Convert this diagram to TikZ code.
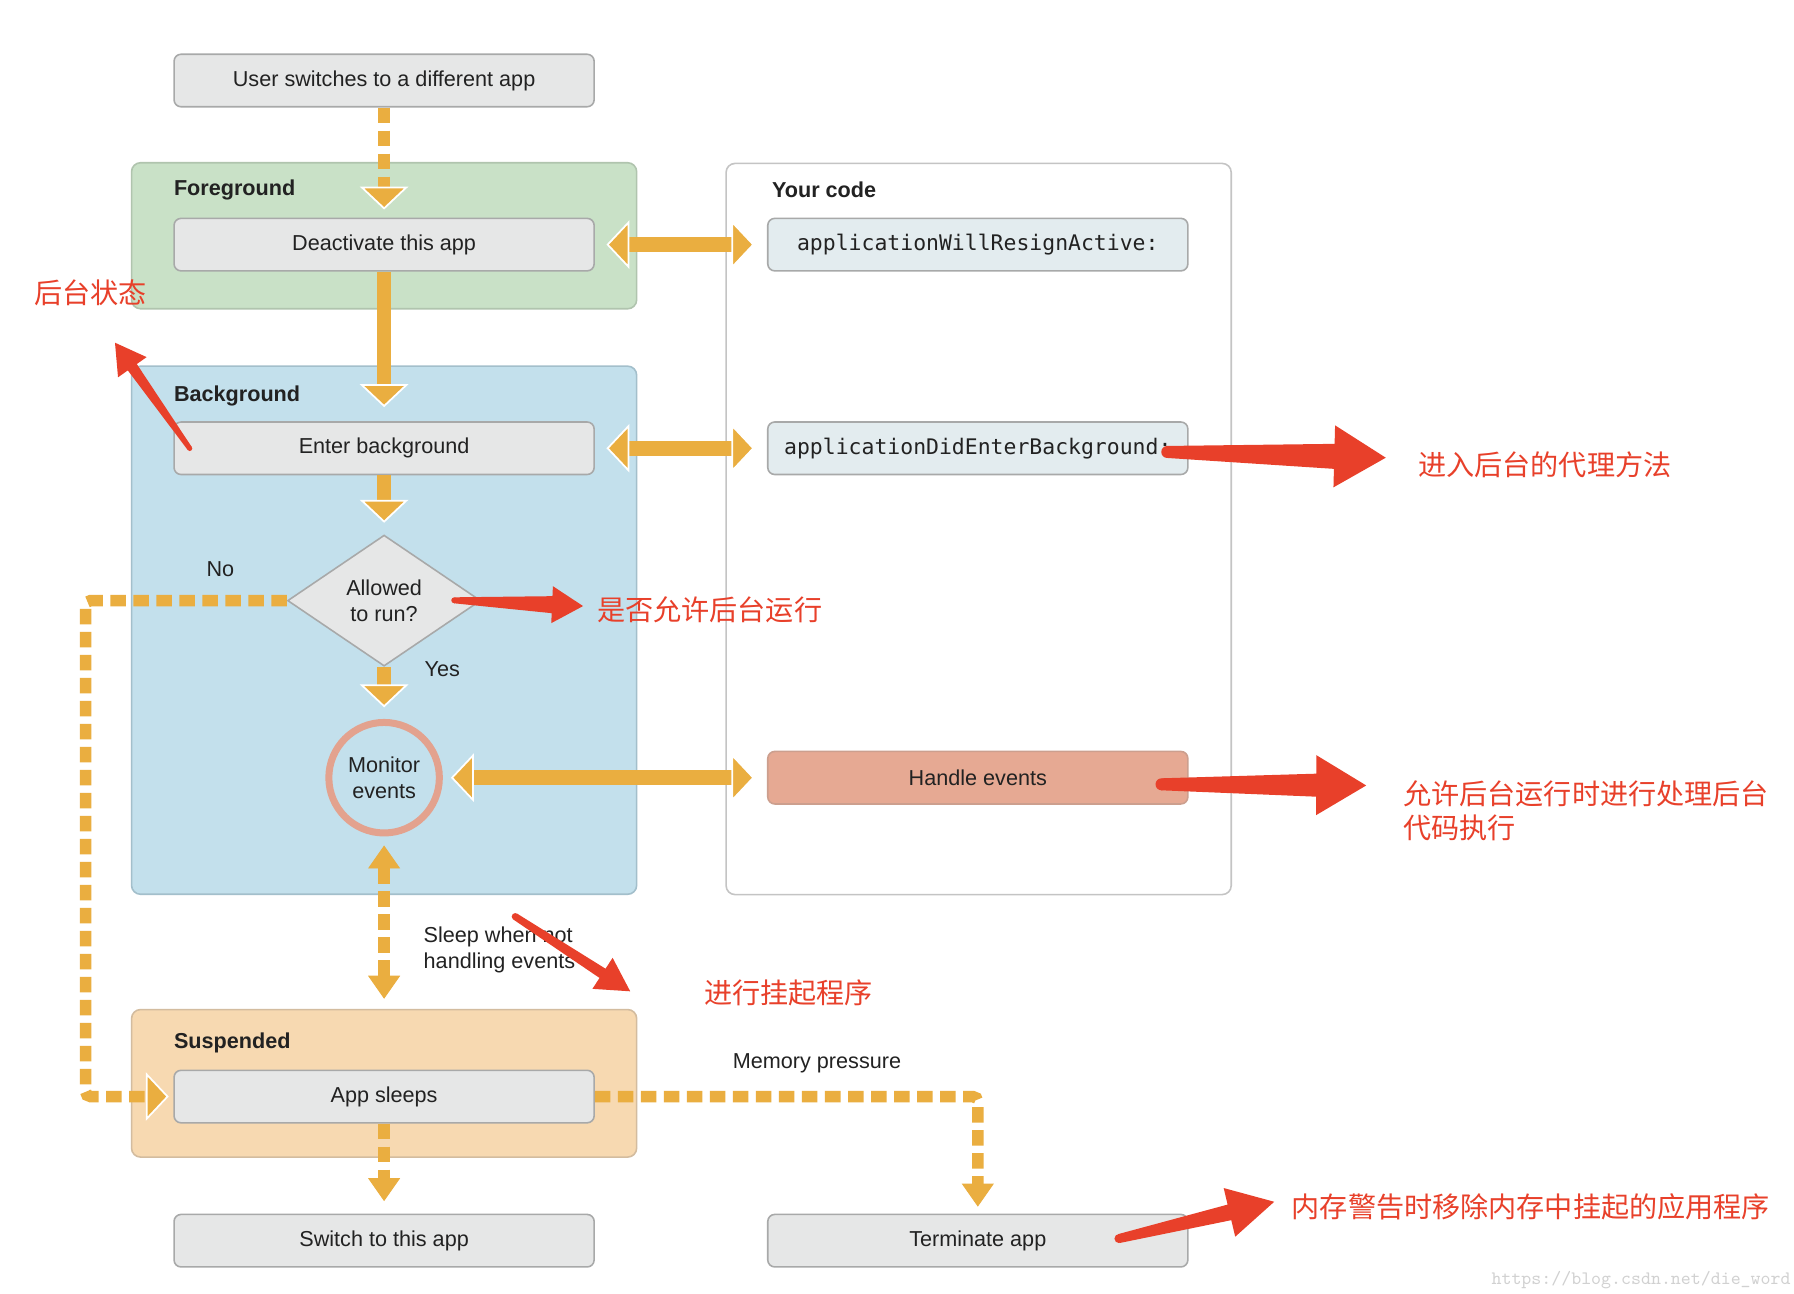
\documentclass[tikz,border=0pt]{standalone}
\usepackage{fontspec}
\setmainfont{Liberation Sans}
\newfontfamily\codefont{DejaVu Sans Mono}
\newfontfamily\cjk{Noto Sans CJK SC}
\usetikzlibrary{positioning, shapes.geometric, arrows.meta, calc}

\definecolor{boxgray}{HTML}{E6E7E7}
\definecolor{boxline}{HTML}{A8A9A9}
\definecolor{fgfill}{HTML}{C9E1C7}
\definecolor{fgline}{HTML}{B0C4AE}
\definecolor{bgfill}{HTML}{C3E0EC}
\definecolor{bgline}{HTML}{A3BFCB}
\definecolor{suspfill}{HTML}{F7D9B1}
\definecolor{suspline}{HTML}{D3BC9F}
\definecolor{codeline}{HTML}{C4C4C4}
\definecolor{codefill}{HTML}{E3ECEF}
\definecolor{handlefill}{HTML}{E6A993}
\definecolor{ringcol}{HTML}{E3A28E}
\definecolor{flowor}{HTML}{EAAE40}
\definecolor{notered}{HTML}{E8402A}
\definecolor{inkgray}{HTML}{222222}

% tail, tip, head length, head half width, shaft half width, tail half width
\newcommand\redarrow[6]{%
  \fill[notered] ($(#1)!#6!90:(#2)$) -- ($(#2)!#3!(#1)!#5!-90:(#1)$)
    -- ($(#2)!#3!(#1)!#4!-90:(#1)$) -- (#2) -- ($(#2)!#3!(#1)!#4!90:(#1)$)
    -- ($(#2)!#3!(#1)!#5!90:(#1)$) -- ($(#1)!#6!-90:(#2)$) -- cycle;
  \fill[notered] (#1) circle[radius=#6];
}

\tikzset{
  stepbox/.style={draw=boxline, fill=boxgray, rounded corners=0.14cm, line width=0.9pt,
    minimum width=8.4cm, minimum height=1.05cm},
  codebox/.style={stepbox, fill=codefill, font=\codefont\fontsize{12.2}{14}\selectfont},
  panel/.style={draw=#1line, fill=#1fill, rounded corners=0.18cm, line width=0.9pt,
    minimum width=10.1cm},
  paneltitle/.style={anchor=west, inner xsep=0pt, font=\fontsize{12.3}{15}\selectfont\bfseries},
  flow/.style={draw=flowor, line width=0.29cm},
  dashflow/.style={draw=flowor, line width=0.23cm, dash pattern=on 0.31cm off 0.15cm},
  bighead/.tip={Triangle[width=0.97cm, length=0.46cm, line width=1pt, color=white, fill=flowor]},
  smallhead/.tip={Triangle[width=0.64cm, length=0.46cm, line width=0.5pt, color=flowor, fill=flowor]},
  note/.style={anchor=west, inner xsep=0pt, text=notered, font=\cjk\fontsize{16}{19.6}\selectfont},
}

\begin{document}
\begin{tikzpicture}[
    x=0.023cm, y=-0.023cm,
    every node/.style={font=\fontsize{12.3}{15}\selectfont, text=inkgray}
]
    \path[fill=white, use as bounding box] (0,0) rectangle (1560,1125);

    % panels
    \node (fg) [panel=fg, minimum height=2.92cm] at (334,205) {};
    \node (bg) [panel=bg, minimum height=10.56cm] at (334,548) {};
    \node (susp) [panel=susp, minimum height=2.95cm] at (334,942) {};
    \node (code) [draw=codeline, fill=white, rounded corners=0.18cm, line width=0.9pt,
        minimum width=10.1cm, minimum height=14.62cm] at (851,460) {};

    \node (fgtitle) [paneltitle] at (151,165) {Foreground};
    \node (codetitle) [paneltitle] at (671,165) {Your code};
    \node (bgtitle) [paneltitle] at (151,344) {Background};
    \node (susptitle) [paneltitle] at (151,907) {Suspended};

    % app states
    \node (user) [stepbox] at (334,70) {User switches to a different app};
    \node (deact) [stepbox, below=2.2cm of user] {Deactivate this app};
    \node (enter) [stepbox, below=2.99cm of deact] {Enter background};
    \node (allowed) [diamond, draw=boxline, fill=boxgray, line width=0.9pt, inner sep=0pt,
        minimum width=3.86cm, minimum height=2.62cm, align=center, below=1.18cm of enter] {Allowed\\to run?};
    \node (monitor) [circle, draw=ringcol, line width=0.14cm, fill=bgfill, inner sep=0pt,
        minimum size=2.21cm, align=center, below=1.04cm of allowed] {Monitor\\events};
    \node (sleeps) [stepbox, below=4.66cm of monitor] {App sleeps};
    \node (switch) [stepbox, below=1.8cm of sleeps] {Switch to this app};

    % delegate side
    \node (resign) [codebox, right=3.44cm of deact] {applicationWillResignActive:};
    \node (didenter) [codebox, right=3.44cm of enter] {applicationDidEnterBackground:};
    \node (handle) [stepbox, fill=handlefill, draw=handlefill!75!gray] at (resign |- monitor) {Handle events};
    \node (terminate) [stepbox] at (resign |- switch) {Terminate app};

    % flow
    \draw[dashflow, -{bighead}, shorten >=0.16cm] (user) -- (deact);
    \draw[flow, -{bighead}, shorten >=0.28cm] (deact) -- (enter);
    \draw[flow, -{bighead}, shorten >=0.23cm] (enter) -- (allowed);
    \draw[flow, -{bighead}, shorten >=0.23cm] (allowed) -- node[pos=0.05, right=0.55cm] {Yes} (monitor);
    \draw[dashflow, -{bighead}, shorten >=0.09cm, rounded corners=0.1cm] (allowed.west)
        -- node[pos=0.33, above=0.25cm] {No} ++(-175,0) |- (sleeps.west);

    \draw[flow, {bighead}-{bighead}, shorten <=0.23cm, shorten >=0.25cm] (deact) -- (resign);
    \draw[flow, {bighead}-{bighead}, shorten <=0.23cm, shorten >=0.25cm] (enter) -- (didenter);
    \draw[flow, {bighead}-{bighead}, shorten <=0.16cm, shorten >=0.25cm] (monitor) -- (handle);

    \draw[dashflow, {smallhead}-{smallhead}, shorten <=0.18cm, shorten >=0.2cm] (monitor)
        -- node[pos=0.66, right=0.56cm, align=left] {Sleep when not\\handling events} (susp);
    \draw[dashflow, -{smallhead}, shorten >=0.25cm] (sleeps) -- (switch);
    \draw[dashflow, -{smallhead}, shorten >=0.14cm, rounded corners=0.1cm] (sleeps.east)
        -| node[pos=0.29, above=0.24cm] {Memory pressure} (terminate.north);

    % red notes
    \node (bgnote) [note, anchor=center] at (79,255) {后台状态};
    \node (didnote) [note] at (1233,404) {进入后台的代理方法};
    \node (allownote) [note] at (519,530) {是否允许后台运行};
    \node (handlenote) [note, align=left] at (1220,705) {允许后台运行时进行处理后台\\代码执行};
    \node (sleepnote) [note] at (612,863) {进行挂起程序};
    \node (termnote) [note] at (1123,1049) {内存警告时移除内存中挂起的应用程序};

    \coordinate (bgtail) at (165,390);
    \coordinate (bgtip) at (100,298);
    \coordinate (didtail) at (1015,393);
    \coordinate (didtip) at (1205,398);
    \coordinate (allowtail) at (395,522);
    \coordinate (allowtip) at (507,527);
    \coordinate (handletail) at (1010,682);
    \coordinate (handletip) at (1188,683);
    \coordinate (sleeptail) at (448,797);
    \coordinate (sleeptip) at (548,862);
    \coordinate (termtail) at (973,1077);
    \coordinate (termtip) at (1108,1045);

    \redarrow{bgtail}{bgtip}{0.6cm}{0.35cm}{0.11cm}{0.05cm}
    \redarrow{didtail}{didtip}{1.03cm}{0.62cm}{0.25cm}{0.12cm}
    \redarrow{allowtail}{allowtip}{0.62cm}{0.37cm}{0.17cm}{0.06cm}
    \redarrow{handletail}{handletip}{1.0cm}{0.6cm}{0.23cm}{0.12cm}
    \redarrow{sleeptail}{sleeptip}{0.66cm}{0.37cm}{0.11cm}{0.07cm}
    \redarrow{termtail}{termtip}{0.92cm}{0.5cm}{0.16cm}{0.09cm}

    \node (mark) [text=black!18, font=\ttfamily\fontsize{10.8}{12}\selectfont] at (1427,1113) {https://blog.csdn.net/die\_word};
\end{tikzpicture}
\end{document}
